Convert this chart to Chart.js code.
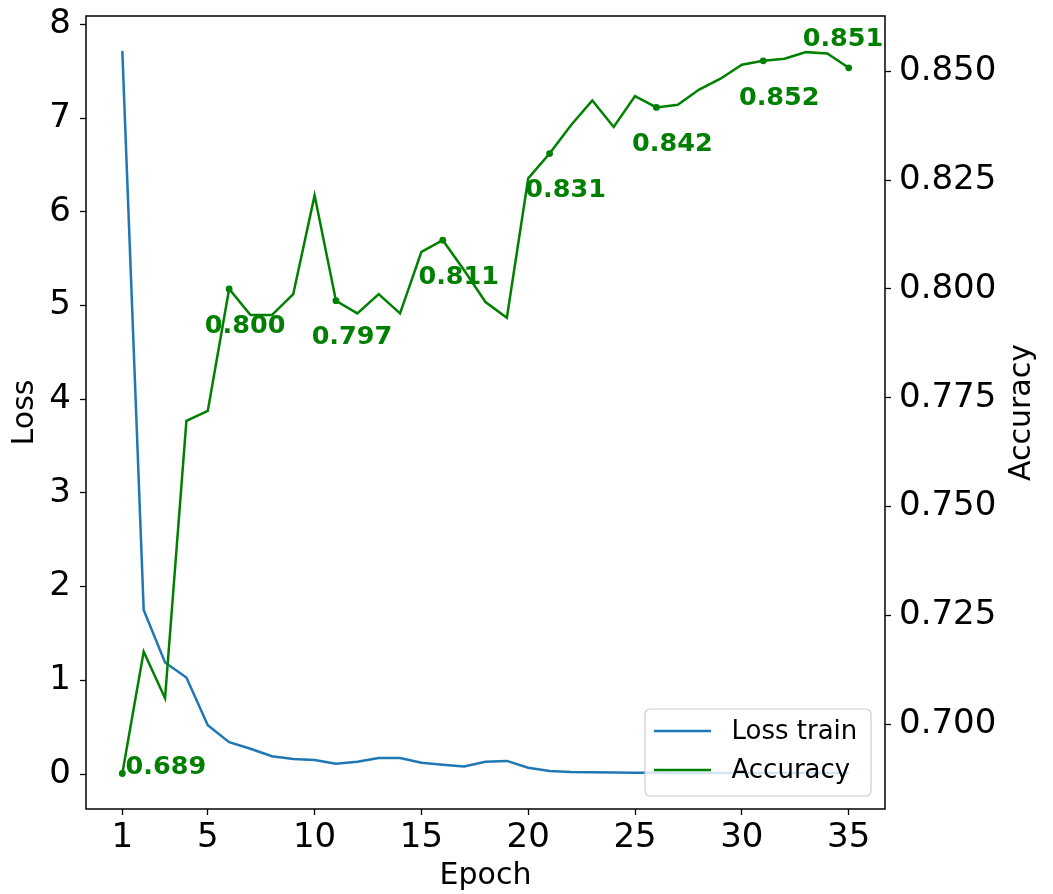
<!DOCTYPE html>
<html><head><meta charset="utf-8">
<script src="https://cdn.jsdelivr.net/npm/chart.js@4.4.1/dist/chart.umd.min.js"></script>
<style>html,body{margin:0;padding:0;background:#fff;overflow:hidden}#wrap{width:1053px;height:894px;position:relative}</style>
</head><body><div id="wrap"><canvas id="c" width="1053" height="894"></canvas></div>
<script>
// ---- data ----
const epochs = [1,2,3,4,5,6,7,8,9,10,11,12,13,14,15,16,17,18,19,20,21,22,23,24,25,26,27,28,29,30,31,32,33,34,35];
const lossTrain = [7.72,1.75,1.19,1.03,0.52,0.34,0.27,0.19,0.16,0.15,0.11,0.13,0.17,0.17,0.12,0.10,0.08,0.13,0.14,0.067,0.032,0.021,0.02,0.016,0.014,0.013,0.012,0.012,0.012,0.012,0.012,0.012,0.012,0.012,0.012];
const accuracy = [0.6887,0.7167,0.7060,0.7697,0.7720,0.8000,0.7940,0.7940,0.7988,0.8215,0.7973,0.7944,0.7988,0.7944,0.8085,0.8112,0.8043,0.7970,0.7934,0.8254,0.8311,0.8376,0.8433,0.8372,0.8443,0.8417,0.8423,0.8458,0.8483,0.8515,0.8524,0.8529,0.8544,0.8541,0.8508];
const markedEpochs = [1,6,11,16,21,26,31,35];
const xTickValues = [1,5,10,15,20,25,30,35];
const lossTicks = [0,1,2,3,4,5,6,7,8];
const accTicks = [0.700,0.725,0.750,0.775,0.800,0.825,0.850];
const seriesNames = ['Loss train','Accuracy'];
const xTitle = 'Epoch', lossTitle = 'Loss', accTitle = 'Accuracy';

const FONT = "'DejaVu Sans', 'Liberation Sans', sans-serif";
const BLUE = '#1f77b4', GREEN = '#008000';

// frame (spines)
const framePlugin = {
  id: 'frame',
  afterDatasetsDraw(chart) {
    const {ctx, chartArea: a} = chart;
    ctx.save();
    ctx.strokeStyle = '#000'; ctx.lineWidth = 1.5;
    ctx.strokeRect(a.left, a.top, a.right - a.left, a.bottom - a.top);
    ctx.restore();
  }
};

// value annotations at marked epochs
const annotPlugin = {
  id: 'annot',
  afterDatasetsDraw(chart) {
    const {ctx} = chart;
    const xs = chart.scales.x, ys = chart.scales.y1;
    ctx.save();
    ctx.fillStyle = GREEN;
    ctx.font = "bold 25.5px " + FONT;
    ctx.textBaseline = 'alphabetic';
    markedEpochs.forEach((ep, k) => {
      const i = epochs.indexOf(ep);
      const v = accuracy[i];
      const px = xs.getPixelForValue(ep), py = ys.getPixelForValue(v);
      let dx = 16, dy = 43.7, align = 'center';
      if (k === 0) { dx = 3.3; dy = 0; align = 'left'; }
      else if (k === markedEpochs.length - 1) { dx = -5.7; dy = -21.6; }
      ctx.textAlign = align;
      ctx.fillText(v.toFixed(3), px + dx, py + dy);
    });
    ctx.restore();
  }
};

// legend + right axis title
const legendPlugin = {
  id: 'mlegend',
  afterDraw(chart) {
    const {ctx} = chart;
    ctx.save();
    const a = chart.chartArea;
    ctx.translate(1022.6, (a.top + a.bottom) / 2);
    ctx.rotate(-Math.PI / 2);
    ctx.font = "30px " + FONT;
    ctx.fillStyle = '#000';
    ctx.textAlign = 'center';
    ctx.textBaseline = 'middle';
    ctx.fillText(accTitle, 0, 0);
    ctx.restore();

    ctx.save();
    const bx = 645, by = 709, bw = 226, bh = 87, r = 5;
    ctx.beginPath();
    ctx.moveTo(bx + r, by);
    ctx.arcTo(bx + bw, by, bx + bw, by + bh, r);
    ctx.arcTo(bx + bw, by + bh, bx, by + bh, r);
    ctx.arcTo(bx, by + bh, bx, by, r);
    ctx.arcTo(bx, by, bx + bw, by, r);
    ctx.closePath();
    ctx.fillStyle = 'rgba(255,255,255,0.8)';
    ctx.fill();
    ctx.strokeStyle = '#cccccc'; ctx.lineWidth = 1.2;
    ctx.stroke();
    const colors = [BLUE, GREEN];
    const rowsY = [731, 770];
    ctx.font = "26px " + FONT;
    ctx.textBaseline = 'middle';
    ctx.textAlign = 'left';
    seriesNames.forEach((n, i) => {
      ctx.strokeStyle = colors[i]; ctx.lineWidth = 2.5;
      ctx.beginPath(); ctx.moveTo(654, rowsY[i]); ctx.lineTo(711, rowsY[i]); ctx.stroke();
      ctx.fillStyle = '#000';
      ctx.fillText(n, 731.5, rowsY[i] + 1);
    });
    ctx.restore();
  }
};

const tickGrid = {display: true, drawOnChartArea: false, drawTicks: true, tickLength: 6, tickColor: '#000', tickWidth: 1.3};
const noPad = s => { s.paddingTop = 0; s.paddingBottom = 0; s.paddingLeft = 0; s.paddingRight = 0; };

new Chart(document.getElementById('c'), {
  type: 'line',
  data: {
    datasets: [
      {
        label: seriesNames[1],
        data: epochs.map((e, i) => ({x: e, y: accuracy[i]})),
        yAxisID: 'y1',
        borderColor: GREEN, backgroundColor: GREEN,
        borderWidth: 2.5, tension: 0, order: 0,
        pointRadius: c => markedEpochs.includes(epochs[c.dataIndex]) ? 3.4 : 0,
        pointBorderWidth: 0, pointBackgroundColor: GREEN
      },
      {
        label: seriesNames[0],
        data: epochs.map((e, i) => ({x: e, y: lossTrain[i]})),
        yAxisID: 'y',
        borderColor: BLUE, backgroundColor: BLUE,
        borderWidth: 2.5, tension: 0, pointRadius: 0, order: 1
      }
    ]
  },
  options: {
    responsive: false, animation: false, devicePixelRatio: 1, events: [],
    layout: {padding: {top: 16, left: 0, right: 0, bottom: 0}},
    plugins: {legend: {display: false}, tooltip: {enabled: false}},
    scales: {
      x: {
        type: 'linear', position: 'bottom', min: -0.7, max: 36.7,
        afterBuildTicks: s => { s.ticks = xTickValues.map(v => ({value: v})); },
        afterFit: s => { s.height = 85; noPad(s); },
        ticks: {color: '#000', font: {family: FONT, size: 34}, padding: 2.4, maxRotation: 0, autoSkip: false, callback: v => String(v)},
        grid: tickGrid, border: {display: false},
        title: {display: true, text: xTitle, color: '#000', font: {family: FONT, size: 30}, padding: {top: 0, bottom: 0}}
      },
      y: {
        type: 'linear', position: 'left', min: -0.3735, max: 8.0918,
        afterBuildTicks: s => { s.ticks = lossTicks.map(v => ({value: v})); },
        afterFit: s => { s.width = 86; noPad(s); },
        ticks: {color: '#000', font: {family: FONT, size: 34}, padding: 9, callback: v => String(v)},
        grid: tickGrid, border: {display: false},
        title: {display: true, text: lossTitle, color: '#000', font: {family: FONT, size: 30}, padding: {top: 7.5, bottom: 0}}
      },
      y1: {
        type: 'linear', position: 'right', min: 0.68055, max: 0.8627,
        afterBuildTicks: s => { s.ticks = accTicks.map(v => ({value: v})); },
        afterFit: s => { s.width = 168; noPad(s); },
        ticks: {color: '#000', font: {family: FONT, size: 34}, padding: 8, callback: v => v.toFixed(3)},
        grid: tickGrid, border: {display: false}
      }
    }
  },
  plugins: [framePlugin, annotPlugin, legendPlugin]
});
</script></body></html>
